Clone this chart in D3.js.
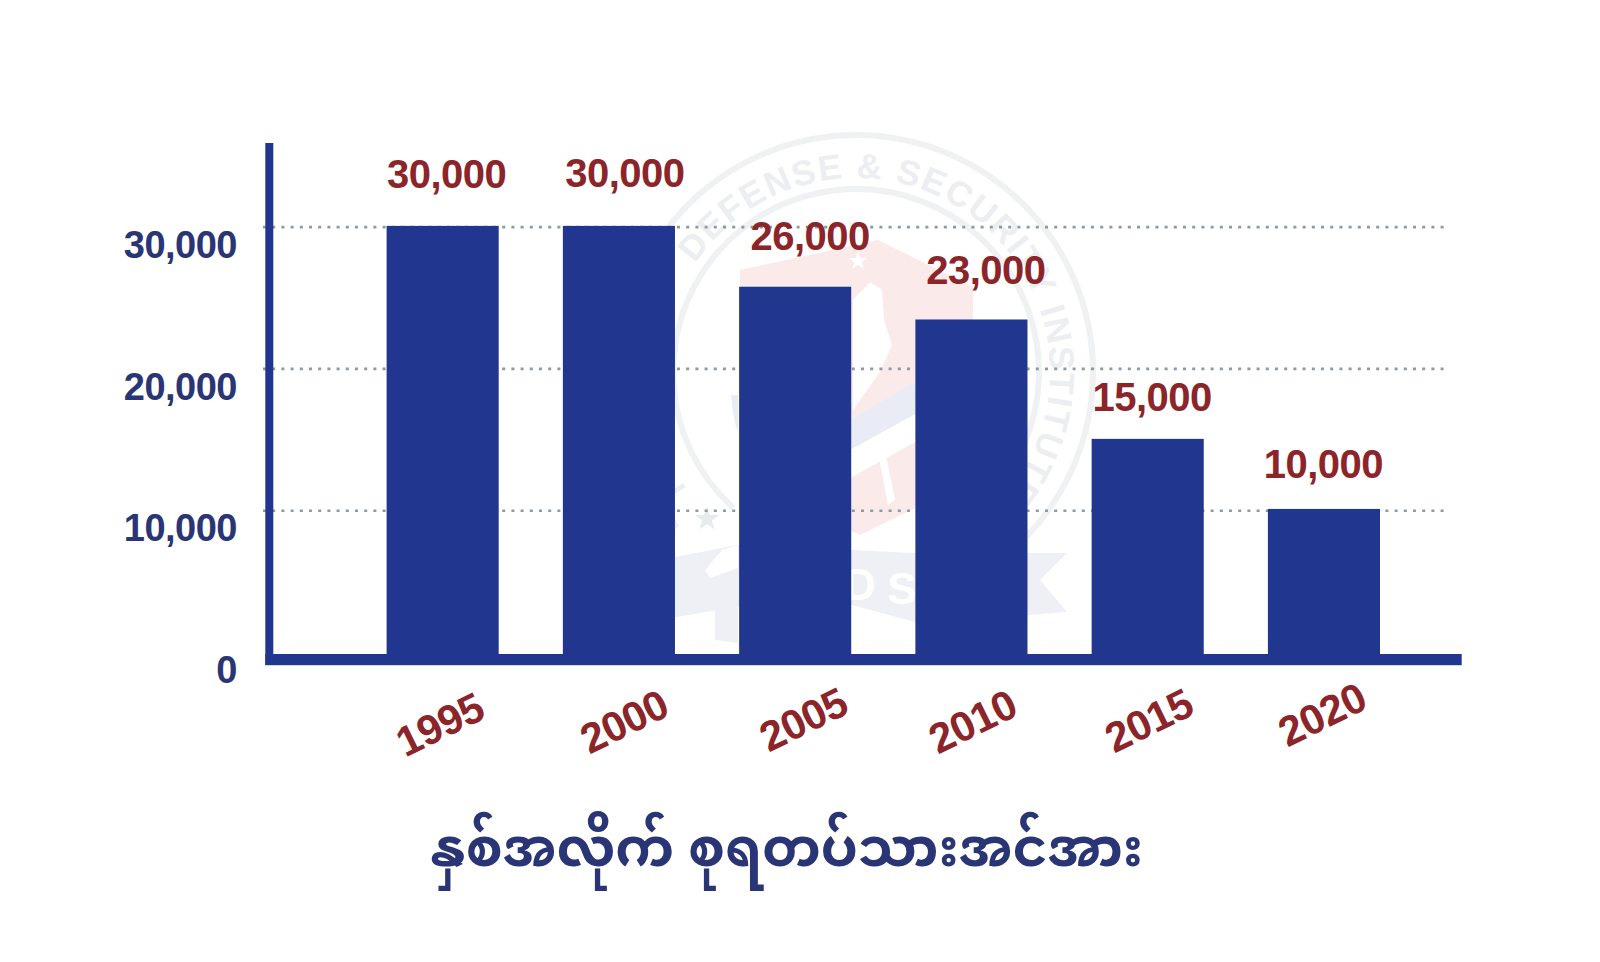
<!DOCTYPE html>
<html><head><meta charset="utf-8">
<script src="https://cdn.jsdelivr.net/npm/d3@7"></script>
<style>
html,body{margin:0;padding:0;background:#fff;}
svg{display:block;}
text{font-family:"Liberation Sans",Arial,sans-serif;font-weight:700;}
</style></head><body>
<svg id="c" width="1600" height="962"></svg>
<script>
const years = ["1995","2000","2005","2010","2015","2020"];
const printedValues = [30000,30000,26000,23000,15000,10000];
const barValues = [30050,30050,25760,23450,15030,10090];
const yTicks = [0,10000,20000,30000];
const gridTicks = [10000,20000,30000];
const titleText = "နှစ်အလိုက် စုရတပ်သားအင်အား";

const BLUE="#21368f", NAVY="#2a3576", RED="#8b2529";
const svg=d3.select("#c");
const x=d3.scaleBand().domain(years).range([386.6,1380]).paddingInner(0.364).paddingOuter(0);
const y=d3.scaleLinear().domain([0,30000]).range([652,226.6]);
const axisY=659.5;

// watermark
const wm=svg.append("g");
const cx=856, cy=372, deg=Math.PI/180;
wm.append("path").attr("d","M740,270 L878,240 L973,287 L973,480 L860,535 L740,480 Z").attr("fill","#fbeaea");
wm.append("path").attr("d","M853,300 L870,282 L882,290 L884,320 L892,345 L880,372 L860,400 L853,410 Z").attr("fill","#fff");
wm.append("path").attr("transform","translate(858,261)").attr("d",d3.symbol(d3.symbolStar,110)()).attr("fill","#fff");
wm.append("path").attr("d","M850,420 L919,380 L919,412 L850,450 Z").attr("fill","#e9ecf4");
wm.append("path").attr("d","M850,450 L919,412 L919,440 L850,478 Z").attr("fill","#fff");
wm.append("path").attr("d","M878,452 L885,450 L895,500 L888,505 Z").attr("fill","#fff");
wm.append("path").attr("d","M731,395 Q733,420 738,432 L738,395 Z").attr("fill","#e9ecf4");
const ring=d3.arc();
wm.append("path").attr("transform",`translate(${cx},${cy})`).attr("fill","#f0f1f3")
  .attr("d",ring({innerRadius:234,outerRadius:240,startAngle:-131*deg,endAngle:134*deg}));
wm.append("path").attr("transform",`translate(${cx},${cy})`).attr("fill","#f0f1f3")
  .attr("d",ring({innerRadius:180,outerRadius:186,startAngle:-138*deg,endAngle:125*deg}));
const rT=194, a0=-146*deg, a1=42*deg;
wm.append("path").attr("id","arc").attr("fill","none")
  .attr("d",`M${cx+rT*Math.cos(a0)},${cy+rT*Math.sin(a0)} A${rT},${rT} 0 1 1 ${cx+rT*Math.cos(a1)},${cy+rT*Math.sin(a1)}`);
wm.append("text").attr("font-size",35).attr("fill","#eceef2").attr("letter-spacing",1.8)
  .append("textPath").attr("href","#arc").text("DEFENSE & SECURITY INSTITUTE");
wm.append("text").attr("transform","translate(684,485) rotate(-123)").attr("text-anchor","middle").attr("font-size",31).attr("fill","#eceef2").text("T");
wm.append("path").attr("transform","translate(707,519)").attr("d",d3.symbol(d3.symbolStar,190)()).attr("fill","#e8ebec");
wm.append("path").attr("d","M660,560 L737,545 Q790,540 852,550 Q890,552 915,553 L1067,553 L1040,580 L1067,612 L1028,615 L915,622 L852,605 Q780,600 717,610 L660,620 Z").attr("fill","#eef0f5");
wm.append("path").attr("d","M710,578 L738,568 L738,545 L722,550 L705,570 Z").attr("fill","#fff");
wm.append("path").attr("d","M715,577 L738,570 L738,643 L715,640 Z").attr("fill","#eef0f5");
wm.append("text").attr("x",860).attr("y",600).attr("text-anchor","middle").attr("font-size",44).attr("fill","#fff").text("D");
wm.append("text").attr("x",902).attr("y",604).attr("text-anchor","middle").attr("font-size",44).attr("fill","#fff").text("S");

// gridlines
const grid=d3.axisLeft(y).tickValues(gridTicks).tickSize(-(1446.5-263)).tickFormat("");
const gg=svg.append("g").attr("transform","translate(263,0)").call(grid);
gg.select(".domain").remove();
gg.selectAll("line").attr("stroke","#8d9aa1").attr("stroke-width",2.6).attr("stroke-dasharray","3 6.2");

// axis lines
svg.append("rect").attr("x",265.3).attr("y",143).attr("width",8).attr("height",522).attr("fill",BLUE);
svg.append("rect").attr("x",265.3).attr("y",654).attr("width",1196.4).attr("height",11.2).attr("fill",BLUE);

// bars
svg.append("g").selectAll("rect").data(years).join("rect")
  .attr("x",d=>x(d)).attr("width",x.bandwidth())
  .attr("y",(d,i)=>y(barValues[i])).attr("height",(d,i)=>axisY-y(barValues[i]))
  .attr("fill",BLUE);

// y tick labels
const ya=d3.axisLeft(y).tickValues(yTicks).tickSize(0).tickPadding(0).tickFormat(d3.format(","));
const yg=svg.append("g").attr("transform","translate(237,17)").call(ya);
yg.select(".domain").remove();
yg.selectAll("text").attr("font-size",38).attr("font-family","Liberation Sans").attr("font-weight",700).attr("fill",NAVY).attr("letter-spacing",-0.5).attr("dy","0.36em");

// value labels
const labelDx=[4,6,15,14.5,4.5,-0.5], labelDy=[-37.6,-39,-36.3,-35.6,-28.2,-31.2];
svg.append("g").selectAll("text").data(years).join("text")
  .attr("x",(d,i)=>x(d)+x.bandwidth()/2+labelDx[i])
  .attr("y",(d,i)=>y(barValues[i])+labelDy[i])
  .attr("text-anchor","middle").attr("font-size",40).attr("letter-spacing",-0.5).attr("fill",RED)
  .text((d,i)=>d3.format(",")(printedValues[i]));

// year labels
const yearX=[-3,5,8,1,1,-2], yearY=[724,721,719,721,720,714];
svg.append("g").selectAll("text").data(years).join("text")
  .attr("transform",(d,i)=>`translate(${x(d)+x.bandwidth()/2+yearX[i]},${yearY[i]}) rotate(-26)`)
  .attr("text-anchor","middle").attr("dy","0.36em").attr("font-size",42).attr("letter-spacing",-0.5).attr("fill",RED).text(d=>d);

// title
svg.append("text").attr("x",787).attr("y",866).attr("text-anchor","middle").attr("font-size",53)
  .attr("fill",NAVY).style("font-family",'"Noto Sans Myanmar","Padauk","Noto Sans","DejaVu Sans",sans-serif').text(titleText);
</script></body></html>
